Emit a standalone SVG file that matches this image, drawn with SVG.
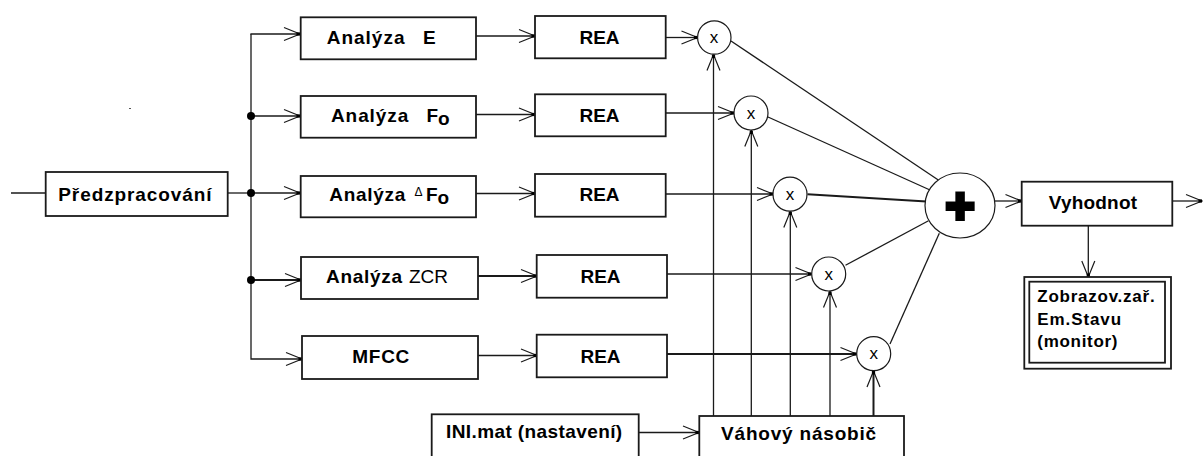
<svg xmlns="http://www.w3.org/2000/svg" width="1203" height="456" viewBox="0 0 1203 456">
<style>
.box{fill:#fff;stroke:#1a1a1a;stroke-width:1.8}
.ln{fill:none;stroke:#1a1a1a;stroke-width:1.3}
.thk{stroke-width:2}
.circ{fill:#fff;stroke:#1a1a1a;stroke-width:1.2}
.t{font-family:"Liberation Sans",Arial,sans-serif;font-weight:bold;font-size:19px;fill:#000}
.ts{font-family:"Liberation Sans",Arial,sans-serif;font-weight:bold;font-size:17px;fill:#000}
.x{font-family:"Liberation Sans",Arial,sans-serif;font-size:17px;fill:#000;text-anchor:middle}
</style>
<defs>
<marker id="arr" markerUnits="userSpaceOnUse" viewBox="-18 -8 20 16" refX="0" refY="0" markerWidth="20" markerHeight="16" orient="auto" overflow="visible">
<path d="M-16,-6.5 L0,0 L-16,6.5" fill="none" stroke="#1a1a1a" stroke-width="1.2"/>
<rect x="-3.5" y="-1.6" width="3.5" height="3.2" fill="#000"/>
</marker>
</defs>
<rect width="1203" height="456" fill="#fff"/>
<rect x="129" y="108" width="2" height="1" fill="#555"/>

<g id="connectors">
<line class="ln" x1="11" y1="193" x2="46" y2="193"/>
<line class="ln" x1="228" y1="193" x2="251" y2="193"/>
<polyline class="ln" points="251,34 251,359 302,359" marker-end="url(#arr)"/>
<line class="ln" x1="250.4" y1="34" x2="300" y2="34" marker-end="url(#arr)"/>
<line class="ln" x1="251" y1="116" x2="300" y2="116" marker-end="url(#arr)"/>
<line class="ln" x1="251" y1="193" x2="300" y2="193" marker-end="url(#arr)"/>
<line class="ln thk" x1="251" y1="280" x2="301" y2="280" marker-end="url(#arr)"/>
<circle cx="251" cy="116" r="4" fill="#000"/>
<circle cx="251" cy="193" r="4" fill="#000"/>
<circle cx="251" cy="280" r="4" fill="#000"/>

<line class="ln" x1="476" y1="36" x2="535" y2="36" marker-end="url(#arr)"/>
<line class="ln" x1="476" y1="114.5" x2="535" y2="114.5" marker-end="url(#arr)"/>
<line class="ln" x1="476" y1="193.5" x2="535" y2="193.5" marker-end="url(#arr)"/>
<line class="ln thk" x1="478" y1="276" x2="537" y2="276" marker-end="url(#arr)"/>
<line class="ln" x1="478" y1="355.5" x2="537" y2="355.5" marker-end="url(#arr)"/>

<line class="ln" x1="666" y1="37.5" x2="697.5" y2="37.5" marker-end="url(#arr)"/>
<line class="ln" x1="666" y1="113" x2="734" y2="113" marker-end="url(#arr)"/>
<line class="ln" x1="666" y1="194" x2="773" y2="194" marker-end="url(#arr)"/>
<line class="ln" x1="667" y1="274" x2="811.5" y2="274" marker-end="url(#arr)"/>
<line class="ln thk" x1="667" y1="354" x2="856.5" y2="354" marker-end="url(#arr)"/>

<line class="ln" x1="713.5" y1="416" x2="713.5" y2="54.5" marker-end="url(#arr)"/>
<line class="ln" x1="751.3" y1="416" x2="751.3" y2="130.5" marker-end="url(#arr)"/>
<line class="ln" x1="790.3" y1="416" x2="790.3" y2="211.5" marker-end="url(#arr)"/>
<line class="ln" x1="830" y1="416" x2="830" y2="291.5" marker-end="url(#arr)"/>
<line class="ln thk" x1="873.5" y1="416" x2="873.5" y2="371" marker-end="url(#arr)"/>

<line class="ln" x1="731" y1="41" x2="938.3" y2="180"/>
<line class="ln" x1="768" y1="117" x2="930" y2="190"/>
<line class="ln thk" x1="807.5" y1="194.3" x2="926.5" y2="201.5"/>
<line class="ln" x1="845.5" y1="265.3" x2="928.5" y2="220.7"/>
<line class="ln" x1="890" y1="344" x2="939.3" y2="233.3"/>

<line class="ln" x1="639" y1="432.5" x2="699" y2="432.5" marker-end="url(#arr)"/>
<line class="ln" x1="995" y1="201" x2="1021.5" y2="201" marker-end="url(#arr)"/>
<line class="ln" x1="1172" y1="201" x2="1202" y2="201" marker-end="url(#arr)"/>
<line class="ln" x1="1088.3" y1="226" x2="1088.3" y2="277" marker-end="url(#arr)"/>
</g>

<g id="predzpracovani">
<rect class="box" x="45.7" y="172" width="182" height="44"/>
<text class="t" x="58.3" y="200.5" letter-spacing="0.9">Předzpracování</text>
</g>

<g id="analyza-e">
<rect class="box" x="300.7" y="17.3" width="175.3" height="42"/>
<text class="t" x="326.7" y="43.5" letter-spacing="1">Analýza<tspan x="423">E</tspan></text>
</g>
<g id="analyza-f0">
<rect class="box" x="300.7" y="96" width="175.3" height="41.7"/>
<text class="t" x="331" y="122.3" letter-spacing="0.9">Analýza<tspan x="426.5" letter-spacing="0">F</tspan><tspan dy="2.8" letter-spacing="0">o</tspan></text>
</g>
<g id="analyza-df0">
<rect class="box" x="300.7" y="176" width="175.3" height="41.3"/>
<text class="t" x="329.3" y="200.7" letter-spacing="0.7">Analýza<tspan x="414.5" dy="-5" font-size="12" font-weight="normal" letter-spacing="0">Δ</tspan><tspan x="426" dy="5" letter-spacing="0">F</tspan><tspan dy="2.8" letter-spacing="0">o</tspan></text>
</g>
<g id="analyza-zcr">
<rect class="box" x="301" y="257" width="177" height="42"/>
<text class="t" x="326" y="282.7" letter-spacing="0.7">Analýza<tspan x="409" font-weight="normal" letter-spacing="0">ZCR</tspan></text>
</g>
<g id="mfcc">
<rect class="box" x="302" y="336" width="176" height="43"/>
<text class="t" x="352.3" y="363.3" letter-spacing="0.7">MFCC</text>
</g>

<g id="rea1">
<rect class="box" x="535" y="16" width="130.7" height="42.3"/>
<text class="t" x="599.5" y="44" text-anchor="middle">REA</text>
</g>
<g id="rea2">
<rect class="box" x="535" y="94.3" width="130.7" height="42"/>
<text class="t" x="599.5" y="122" text-anchor="middle">REA</text>
</g>
<g id="rea3">
<rect class="box" x="535" y="174" width="130.7" height="42.7"/>
<text class="t" x="599.5" y="201" text-anchor="middle">REA</text>
</g>
<g id="rea4">
<rect class="box" x="536.7" y="255" width="130.3" height="42.7"/>
<text class="t" x="600.5" y="282.7" text-anchor="middle">REA</text>
</g>
<g id="rea5">
<rect class="box" x="536.7" y="334.7" width="130.3" height="42.6"/>
<text class="t" x="600.5" y="362.7" text-anchor="middle">REA</text>
</g>

<g id="mult1">
<circle class="circ" cx="714.3" cy="37.5" r="16.7"/>
<text class="x" x="714" y="43">x</text>
</g>
<g id="mult2">
<circle class="circ" cx="751" cy="113" r="17"/>
<text class="x" x="751" y="118.5">x</text>
</g>
<g id="mult3">
<circle class="circ" cx="790" cy="194.2" r="17"/>
<text class="x" x="790" y="199.7">x</text>
</g>
<g id="mult4">
<circle class="circ" cx="828.7" cy="274" r="17"/>
<text class="x" x="828.7" y="279.5">x</text>
</g>
<g id="mult5">
<circle class="circ" cx="873.7" cy="353.7" r="17"/>
<text class="x" x="873.7" y="359.2">x</text>
</g>

<g id="sum">
<ellipse class="circ" cx="960" cy="205.5" rx="35" ry="32.5"/>
<text x="960" y="223" text-anchor="middle" font-family="Liberation Sans, Arial, sans-serif" font-weight="bold" font-size="50" fill="#000" stroke="#000" stroke-width="4">+</text>
</g>

<g id="vyhodnot">
<rect class="box" x="1021.7" y="181.7" width="150.6" height="44"/>
<text class="t" x="1093" y="209.3" text-anchor="middle" font-size="17.5px" letter-spacing="0.2">Vyhodnot</text>
</g>

<g id="zobrazov">
<rect class="box" x="1024.3" y="277" width="146.7" height="91.7"/>
<rect class="box" x="1029.3" y="281.7" width="135.7" height="81"/>
<text class="ts" x="1037.3" y="302" letter-spacing="0.75">Zobrazov.zař.</text>
<text class="ts" x="1037.3" y="325.3" letter-spacing="0.9">Em.Stavu</text>
<text class="ts" x="1037.3" y="347.3" letter-spacing="0.7">(monitor)</text>
</g>

<g id="ini">
<rect class="box" x="431.7" y="414.3" width="207" height="50"/>
<text class="t" x="534.3" y="438.3" text-anchor="middle" font-size="17.5px" letter-spacing="0.4">INI.mat (nastavení)</text>
</g>

<g id="vahovy">
<rect class="box" x="699.3" y="416" width="204.7" height="50"/>
<text class="t" x="799" y="440" text-anchor="middle" letter-spacing="0.8">Váhový násobič</text>
</g>
</svg>
